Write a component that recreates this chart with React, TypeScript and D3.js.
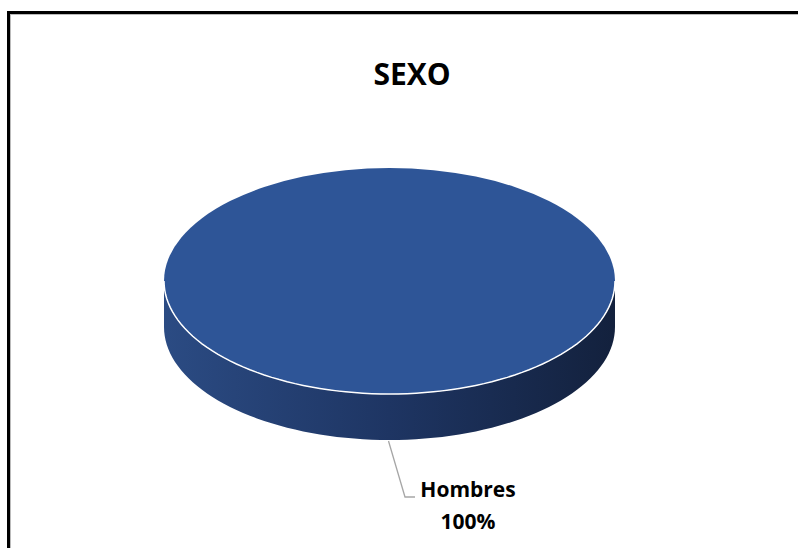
import React from "react";
import * as d3 from "d3";

const categories = ["Hombres"];
const values = [100];
const title = "SEXO";

const W = 798;
const H = 548;

export default function App() {
  const cx = 389.5, cy = 281, rx = 225.5, ry = 113, depth = 46;
  const total = d3.sum(values);
  const pie = d3.pie<number>().sort(null).startAngle(Math.PI / 2).endAngle(Math.PI / 2 + 2 * Math.PI)(values);
  const arc = d3.arc<d3.PieArcDatum<number>>().innerRadius(0).outerRadius(1);
  const pt = (a: number, dy = 0) => [cx + rx * Math.sin(a), cy - ry * Math.cos(a) + dy];

  // front side: visible angles between PI/2 and 3PI/2 (d3 angle: 0 at top, clockwise)
  const sides = pie.map((d) => {
    const a0 = Math.max(d.startAngle % (2 * Math.PI), Math.PI / 2);
    const a1 = Math.min(d.endAngle, 3 * Math.PI / 2);
    const s0 = d.endAngle - d.startAngle >= 2 * Math.PI - 1e-6 ? Math.PI / 2 : a0;
    const s1 = d.endAngle - d.startAngle >= 2 * Math.PI - 1e-6 ? 3 * Math.PI / 2 : a1;
    const n = 80;
    const top: number[][] = [];
    const bot: number[][] = [];
    for (let i = 0; i <= n; i++) {
      const a = s0 + ((s1 - s0) * i) / n;
      top.push(pt(a));
      bot.push(pt(a, depth));
    }
    const line = d3.line();
    const sidePath = line([...top, ...bot.reverse()])! + "Z";
    const edgePath = line(top)!;
    return { sidePath, edgePath };
  });

  const leader = d3.line()([
    [cx - 1, cy + ry + depth + 1],
    [405, 497],
    [415, 497],
  ])!;

  return (
    <div style={{ position: "fixed", left: 0, top: 0 }}>
      <svg width={W} height={H} style={{ display: "block" }}>
        <defs>
          <linearGradient id="sideGrad" x1={cx - rx} x2={cx + rx} y1={0} y2={0} gradientUnits="userSpaceOnUse">
            <stop offset="0" stopColor="#2b4b83" />
            <stop offset="0.5" stopColor="#1e3563" />
            <stop offset="1" stopColor="#13213d" />
          </linearGradient>
        </defs>
        <rect x={0} y={0} width={W} height={H} fill="#ffffff" />
        <rect x={8.5} y={12.5} width={W + 20} height={H + 20} fill="none" stroke="#000" strokeWidth={3} />
        <rect x={10.5} y={14.5} width={W + 20} height={H + 20} fill="none" stroke="#bbb" strokeWidth={1} />
        <text
          x={412}
          y={85}
          textAnchor="middle"
          fontFamily="'Open Sans', sans-serif"
          fontWeight={700}
          fontSize={30}
          fill="#000"
        >
          {title}
        </text>
        {sides.map((s, i) => (
          <path key={"s" + i} d={s.sidePath} fill="url(#sideGrad)" />
        ))}
        {pie.map((d, i) => (
          <path
            key={"t" + i}
            d={arc(d)!}
            transform={`translate(${cx},${cy}) scale(${rx},${ry})`}
            fill="#2e5597"
          />
        ))}
        {sides.map((s, i) => (
          <path key={"e" + i} d={s.edgePath} fill="none" stroke="#ffffff" strokeWidth={1.5} />
        ))}
        <path d={leader} fill="none" stroke="#a6a6a6" strokeWidth={1.3} />
        {categories.map((c, i) => (
          <text key={c} fontFamily="'Open Sans', sans-serif" fontWeight={700} fontSize={21} fill="#000">
            <tspan x={468} y={497} textAnchor="middle">{c}</tspan>
            <tspan x={468} y={529} textAnchor="middle">{Math.round((values[i] / total) * 100) + "%"}</tspan>
          </text>
        ))}
      </svg>
    </div>
  );
}
